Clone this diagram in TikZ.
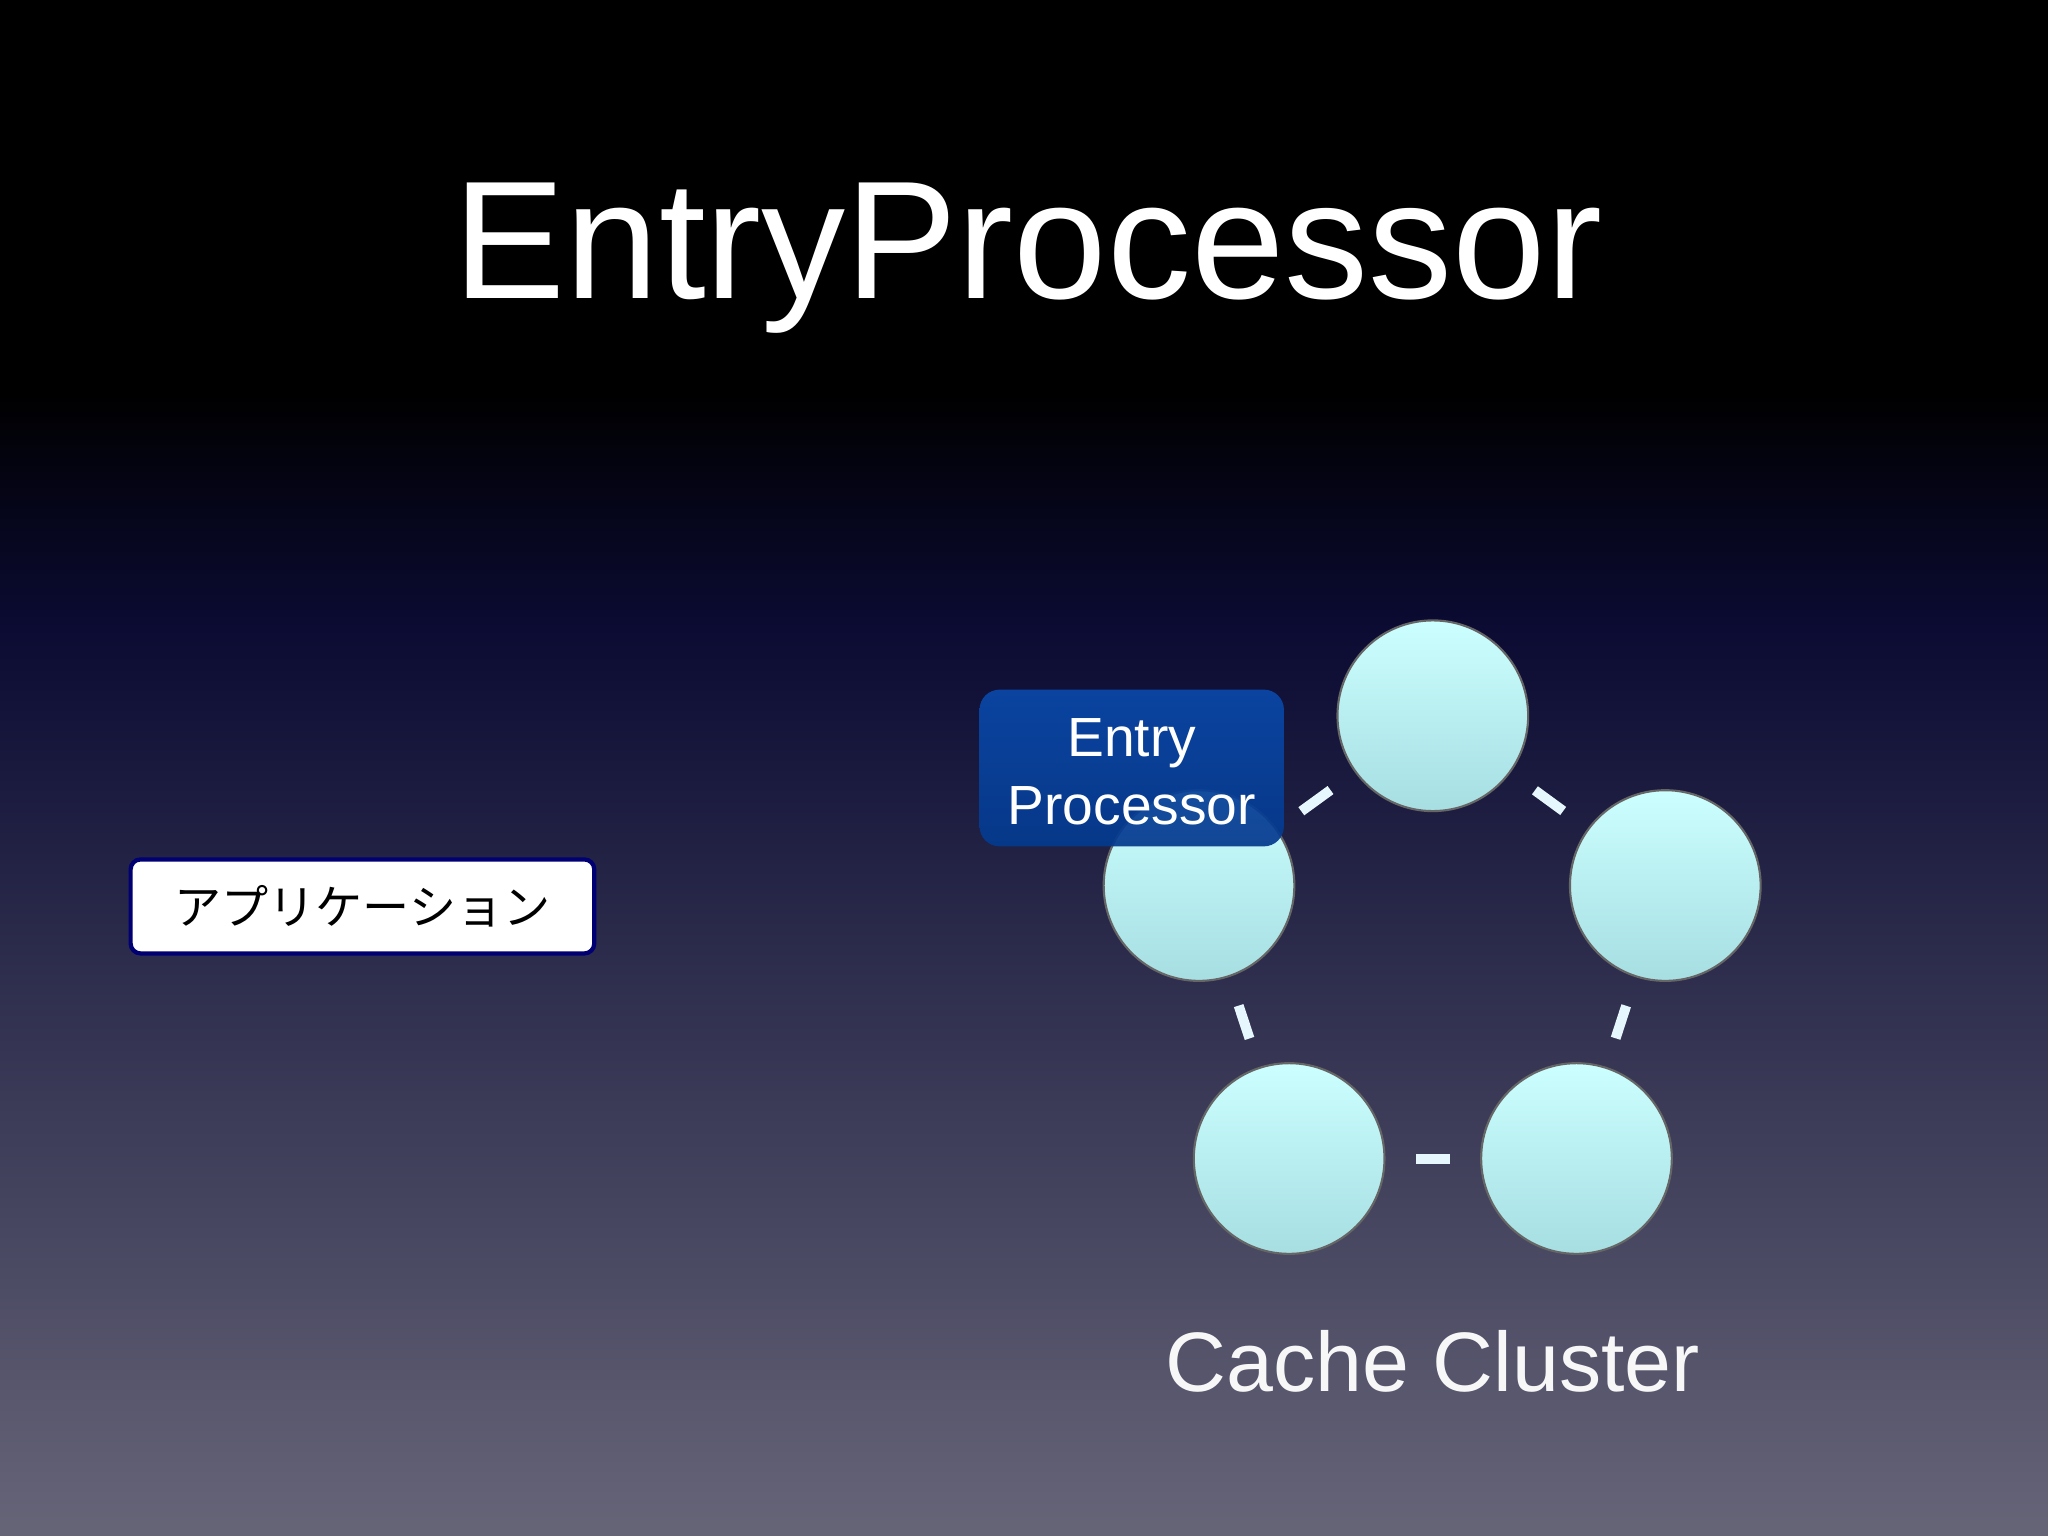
\documentclass[tikz,border=0pt]{standalone}
\usepackage{fontspec}
\setmainfont{Liberation Sans}
\newfontfamily\cjk{Noto Sans CJK JP}
\usetikzlibrary{shadings}
\definecolor{navy}{HTML}{0B0B33}
\definecolor{bottomgrey}{HTML}{666578}
\definecolor{cyantop}{HTML}{CCFFFF}
\definecolor{cyanbot}{HTML}{A6DEE2}
\definecolor{epblue}{HTML}{0A48A8}
\definecolor{epbluebot}{HTML}{053A8E}
\tikzset{
  member/.style={circle, minimum size=146*0.013061cm, inner sep=0pt, draw=black!60, line width=0.6pt, top color=cyantop, bottom color=cyanbot},
  link/.style={draw=white!90!cyan, line width=0.1cm, shorten >=23*0.013061cm, shorten <=23*0.013061cm},
}
\begin{document}
\begin{tikzpicture}[x=0.013061cm,y=-0.013061cm]
\useasboundingbox (0,0) rectangle (1568,1176);
\fill[black] (0,0) rectangle (1568,300);
\shade[top color=black,bottom color=navy] (0,299) rectangle (1568,480);
\shade[top color=navy,bottom color=bottomgrey] (0,479) rectangle (1568,1176);

\node[white,font=\fontsize{47.8}{50}\selectfont] (title) at (787,198) {EntryProcessor};

\node[member] (c1) at (1097,548) {};
\node[member] (c2) at (1275,678) {};
\node[member] (c3) at (1207,887) {};
\node[member] (c4) at (987,887) {};
\node[member] (c5) at (918,678) {};
\draw[link] (c5) -- (c1);
\draw[link] (c1) -- (c2);
\draw[link] (c2) -- (c3);
\draw[link] (c3) -- (c4);
\draw[link] (c4) -- (c5);

\path[rounded corners=0.2cm, top color=epblue, bottom color=epbluebot, fill opacity=0.93] (750,528) rectangle (983,648);
\node[white, align=center, font=\fontsize{15.7}{19.5}\selectfont] (ep) at (866.5,591) {Entry\\Processor};

\node[draw=blue!45!black, line width=1.2pt, fill=white, rounded corners=0.1cm, minimum width=355*0.013061cm, minimum height=72*0.013061cm, font=\cjk\fontsize{13.4}{16}\selectfont] (app) at (277.5,694) {アプリケーション};

\node[white!94!gray, font=\fontsize{24}{28}\selectfont] (cc) at (1097,1042) {Cache Cluster};
\end{tikzpicture}
\end{document}
